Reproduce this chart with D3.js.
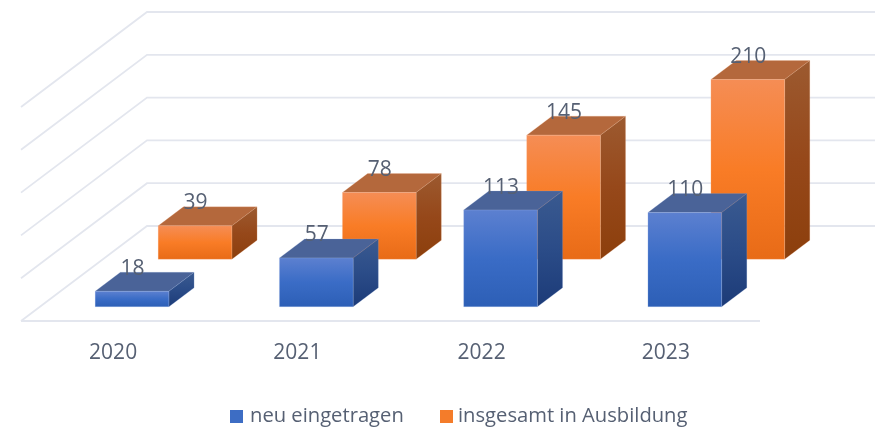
<!DOCTYPE html>
<html>
<head>
<meta charset="utf-8">
<script src="https://cdn.jsdelivr.net/npm/d3@7"></script>
<style>
  html, body { margin: 0; padding: 0; background: #fff; }
  svg { display: block; filter: blur(0.45px); }
  text { font-family: "Open Sans", sans-serif; fill: #566073; }
</style>
</head>
<body>
<script>
var years = ["2020", "2021", "2022", "2023"];
var seriesNames = ["neu eingetragen", "insgesamt in Ausbildung"];
var neuEingetragen = [18, 57, 113, 110];
var insgesamt = [39, 78, 145, 210];
var valueTicks = [0, 50, 100, 150, 200, 250];

var width = 875, height = 427;

// floor of the 3d box: front edge on screen, and how far the back edge is shifted
var floor = {left: 21, right: 760, barsRight: 758, y: 321, depthX: 126, depthY: 95};

var svg = d3.select("body").append("svg")
    .attr("width", width)
    .attr("height", height);

var xScale = d3.scaleBand().domain(years).range([floor.left, floor.barsRight]).paddingInner(0.6).paddingOuter(0.3),
    depthScale = d3.scaleBand().domain(seriesNames).range([0, 1]).paddingInner(0.6).paddingOuter(0.3),
    yScale = d3.scaleLinear().domain([0, 250]).range([0, 214]);

// x on the front edge, depth 0..1 into the box, value up the wall
function project(x, depth, value) {
  return [x + depth * floor.depthX, floor.y - depth * floor.depthY - yScale(value)];
}

var line = d3.line();

// gradients for the three visible faces of each series
var defs = svg.append("defs");
var faces = [
  {id: "front-0", stops: ["#5c80d0", "#3a6cc6", "#2d5fb6"]},
  {id: "side-0", stops: ["#3a5a90", "#2b4c88", "#1c3b78"]},
  {id: "top-0", stops: ["#4a6398", "#4a6398", "#4a6398"]},
  {id: "front-1", stops: ["#f58d55", "#f97c26", "#e86b17"]},
  {id: "side-1", stops: ["#9c5a30", "#96481a", "#8c3f0c"]},
  {id: "top-1", stops: ["#b4683c", "#b4683c", "#b4683c"]}
];
faces.forEach(function(f) {
  var g = defs.append("linearGradient").attr("id", f.id)
      .attr("x1", 0).attr("y1", 0).attr("x2", 0).attr("y2", 1);
  f.stops.forEach(function(c, i) {
    g.append("stop").attr("offset", i / 2).attr("stop-color", c);
  });
});

// back wall and left wall lines
var grid = svg.append("g").attr("class", "grid")
    .attr("fill", "none")
    .attr("stroke", "#e3e6ee")
    .attr("stroke-width", 1.8);

grid.selectAll(".grid-line")
    .data(valueTicks)
    .enter()
    .append("path")
    .attr("class", "grid-line")
    .attr("d", function(v) {
      return line([project(floor.left, 0, v), project(floor.left, 1, v), [width, project(floor.left, 1, v)[1]]]);
    });

grid.append("path")
    .attr("d", line([project(floor.left, 0, 0), project(floor.right, 0, 0)]));

// one row per bar, back series first so the front one covers it
var bars = [];
[insgesamt, neuEingetragen].forEach(function(values) {
  var s = values === neuEingetragen ? 0 : 1;
  values.forEach(function(v, i) {
    bars.push({year: years[i], value: v, series: s});
  });
});

var barGroups = svg.append("g")
    .attr("class", "bars")
    .selectAll(".bar")
    .data(bars)
    .enter()
    .append("g")
    .attr("class", "bar")
    .attr("stroke-width", 0.6)
    .attr("stroke-opacity", 0.35);

function corners(d) {
  var name = seriesNames[d.series],
      x0 = xScale(d.year),
      x1 = x0 + xScale.bandwidth(),
      d0 = depthScale(name),
      d1 = d0 + depthScale.bandwidth();
  return {x0: x0, x1: x1, d0: d0, d1: d1};
}

// top
barGroups.append("path")
    .attr("fill", d => `url(#top-${d.series})`)
    .attr("stroke", d => d.series ? "#f0b08c" : "#8ea6d8")
    .attr("d", function(d) {
      var c = corners(d);
      return line([project(c.x0, c.d0, d.value), project(c.x1, c.d0, d.value), project(c.x1, c.d1, d.value), project(c.x0, c.d1, d.value)]) + "Z";
    });

// side
barGroups.append("path")
    .attr("fill", d => `url(#side-${d.series})`)
    .attr("stroke", d => d.series ? "#f0b08c" : "#8ea6d8")
    .attr("d", function(d) {
      var c = corners(d);
      return line([project(c.x1, c.d0, d.value), project(c.x1, c.d1, d.value), project(c.x1, c.d1, 0), project(c.x1, c.d0, 0)]) + "Z";
    });

// front
barGroups.append("path")
    .attr("fill", d => `url(#front-${d.series})`)
    .attr("stroke", d => d.series ? "#fbc7a4" : "#b4c6ea")
    .attr("d", function(d) {
      var c = corners(d);
      return line([project(c.x0, c.d0, d.value), project(c.x1, c.d0, d.value), project(c.x1, c.d0, 0), project(c.x0, c.d0, 0)]) + "Z";
    });

// value labels sit above the top front edge
svg.append("g")
    .attr("class", "labels")
    .selectAll("text")
    .data(bars)
    .enter()
    .append("text")
    .text(d => d.value)
    .attr("text-anchor", "middle")
    .attr("font-size", 21)
    .attr("x", function(d) {
      var c = corners(d);
      return project(xScale(d.year) + xScale.bandwidth() / 2, c.d0, d.value)[0] + 0.5;
    })
    .attr("y", function(d) {
      var c = corners(d);
      return project(c.x0, c.d0, d.value)[1] - 16.5;
    });

// year labels
var xAxis = d3.axisBottom(xScale).tickSize(0).tickPadding(0);
svg.append("g")
    .attr("class", "x axis")
    .attr("transform", "translate(0, 339)")
    .call(xAxis)
    .call(g => g.select(".domain").remove())
    .selectAll("text")
    .attr("dy", null)
    .attr("y", 19.5)
    .style("font-family", '"Open Sans", sans-serif')
    .style("font-size", "21px");

// legend
var legendX = [230, 440];
var legend = svg.append("g")
    .attr("class", "legend")
    .selectAll("g")
    .data(seriesNames)
    .enter()
    .append("g")
    .attr("transform", (d, i) => `translate(${legendX[i]}, 410)`);

legend.append("rect")
    .attr("width", 13)
    .attr("height", 13)
    .attr("fill", (d, i) => i ? "#f47c2a" : "#3d6dc4");

legend.append("text")
    .text(d => d)
    .attr("x", (d, i) => i ? 18 : 20)
    .attr("y", 11.5)
    .attr("font-size", 20.2);
</script>
</body>
</html>
